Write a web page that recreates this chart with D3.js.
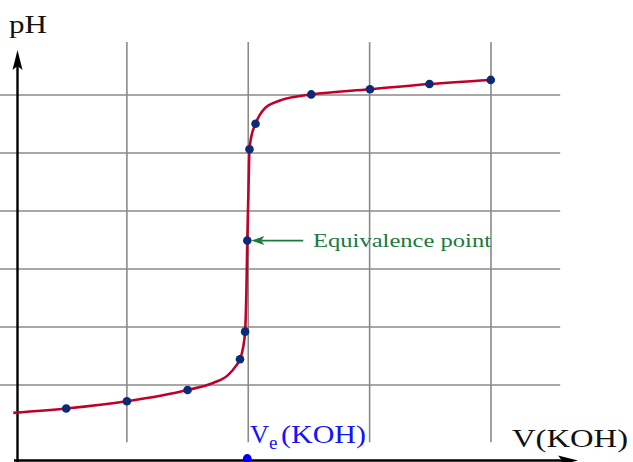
<!DOCTYPE html>
<html>
<head>
<meta charset="utf-8">
<script src="https://cdn.jsdelivr.net/npm/d3@7"></script>
<style>
  html, body { margin: 0; padding: 0; background: #fff; }
  svg { display: block; }
  text { font-family: "Liberation Serif", "DejaVu Serif", serif; }
</style>
</head>
<body>
<svg id="chart" width="633" height="462"></svg>
<script>
// ---- data ----
// measured titration points (volume of KOH in mL, pH)
const pointV  = [5, 10, 15, 19.32, 19.74, 19.92, 20.1, 20.6, 25.19, 30.03, 34.93, 39.98];
const pointPH = [1.19, 1.44, 1.83, 2.89, 3.84, 6.98, 10.13, 11.01, 12.02, 12.2, 12.38, 12.52];
// titration curve
const curveV  = [0.64, 5, 10, 15, 17.1, 18.33, 18.99, 19.32, 19.57, 19.74, 19.85, 19.92, 20.01, 20.1, 20.23, 20.6, 21.38, 22.61, 23.85, 25.19, 30.03, 34.93, 39.98];
const curvePH = [1.04, 1.19, 1.44, 1.83, 2.07, 2.34, 2.66, 2.89, 3.28, 3.84, 5.28, 6.98, 8.55, 10.13, 10.52, 11.01, 11.55, 11.81, 11.94, 12.02, 12.2, 12.38, 12.52];
const gridV  = [10, 20, 30, 40];
const gridPH = [2, 4, 6, 8, 10, 12];
const equivalenceV = 19.92, equivalencePH = 6.98;
const labels = { y: "pH", x: "V(KOH)", ve: "V", veSub: "e", veRest: "(KOH)", eq: "Equivalence point" };

// ---- scales ----
const svg = d3.select("#chart");
const x = d3.scaleLinear().domain([0, 40]).range([5.5, 491]);
const y = d3.scaleLinear().domain([0, 14]).range([443, 37]);

const axisX = 17.5, axisY = 460.5;
const gridColor = "#8a8a8a";

// ---- grid ----
const g = svg.append("g");
g.selectAll("line.h").data(gridPH).join("line")
  .attr("x1", x(-0.63)).attr("x2", x(45.7))
  .attr("y1", d => y(d)).attr("y2", d => y(d))
  .attr("stroke", gridColor).attr("stroke-width", 1.6);
g.selectAll("line.v").data(gridV).join("line")
  .attr("x1", d => x(d)).attr("x2", d => x(d))
  .attr("y1", y(0.03)).attr("y2", y(13.83))
  .attr("stroke", gridColor).attr("stroke-width", 1.6);

// ---- axes ----
svg.append("line").attr("x1", axisX).attr("x2", axisX).attr("y1", 462).attr("y2", 62)
  .attr("stroke", "#000").attr("stroke-width", 2.4);
svg.append("path")
  .attr("d", `M${axisX},50 L${axisX+5},70 L${axisX},66 L${axisX-5},70 Z`)
  .attr("fill", "#000");
svg.append("line").attr("x1", 14).attr("x2", 566).attr("y1", axisY).attr("y2", axisY)
  .attr("stroke", "#000").attr("stroke-width", 2.4);
svg.append("path")
  .attr("d", `M578,${axisY} L558,${axisY-5} L562,${axisY} L558,${axisY+5} Z`)
  .attr("fill", "#000");

// ---- curve ----
const curveData = curveV.map((v, i) => [v, curvePH[i]]);
svg.append("path")
  .datum(curveData)
  .attr("d", d3.line().x(d => x(d[0])).y(d => y(d[1])).curve(d3.curveMonotoneX))
  .attr("fill", "none").attr("stroke", "#c0002a").attr("stroke-width", 2.6);

// ---- points ----
svg.selectAll("circle.pt").data(pointV.map((v, i) => [v, pointPH[i]])).join("circle")
  .attr("cx", d => x(d[0])).attr("cy", d => y(d[1])).attr("r", 4.3)
  .attr("fill", "#0b2a78");

// equivalence marker on the x axis
svg.append("circle").attr("cx", x(equivalenceV)).attr("cy", axisY - 2).attr("r", 4.4).attr("fill", "#0000ee");

// ---- equivalence arrow ----
const ex = x(equivalenceV), ey = y(equivalencePH);
svg.append("line").attr("x1", ex + 14).attr("x2", ex + 56).attr("y1", ey).attr("y2", ey)
  .attr("stroke", "#1a7a3c").attr("stroke-width", 1.6);
svg.append("path")
  .attr("d", `M${ex+4},${ey} L${ex+17},${ey-4.5} L${ex+14},${ey} L${ex+17},${ey+4.5} Z`)
  .attr("fill", "#1a7a3c");
svg.append("text").attr("x", 313).attr("y", 247).attr("font-size", 19)
  .attr("fill", "#1a7a3c").attr("textLength", 178).attr("lengthAdjust", "spacingAndGlyphs")
  .text(labels.eq);

// ---- labels ----
svg.append("text").attr("x", 9).attr("y", 33).attr("font-size", 26)
  .attr("fill", "#111").attr("textLength", 38).attr("lengthAdjust", "spacingAndGlyphs")
  .text(labels.y);
svg.append("text").attr("x", 512).attr("y", 447).attr("font-size", 26)
  .attr("fill", "#111").attr("textLength", 116).attr("lengthAdjust", "spacingAndGlyphs")
  .text(labels.x);

const ve = svg.append("text").attr("font-size", 26).attr("fill", "#1414ff");
ve.append("tspan").attr("x", 250).attr("y", 443).attr("textLength", 19).attr("lengthAdjust", "spacingAndGlyphs").text(labels.ve);
ve.append("tspan").attr("x", 269).attr("y", 449).attr("font-size", 19).text(labels.veSub);
ve.append("tspan").attr("x", 281).attr("y", 443).attr("textLength", 85).attr("lengthAdjust", "spacingAndGlyphs").text(labels.veRest);
</script>
</body>
</html>
